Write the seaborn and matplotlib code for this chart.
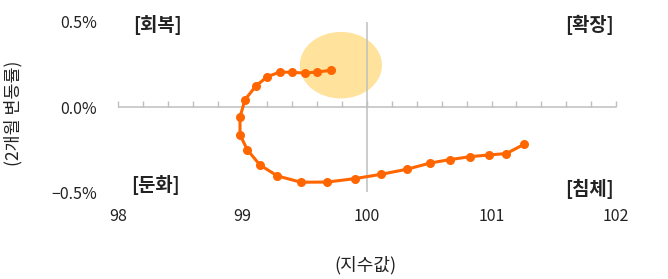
import matplotlib
matplotlib.use("Agg")
import matplotlib.pyplot as plt
from matplotlib.patches import Ellipse
import seaborn as sns
import pandas as pd

index_values = [101.26, 101.12, 100.98, 100.83, 100.67, 100.51, 100.32, 100.11,
                99.90, 99.68, 99.47, 99.28, 99.14, 99.04, 98.98, 98.98,
                99.02, 99.11, 99.20, 99.30, 99.40, 99.50, 99.60, 99.71]
change_pct = [-0.219, -0.273, -0.281, -0.291, -0.308, -0.328, -0.365, -0.395,
              -0.420, -0.440, -0.441, -0.404, -0.340, -0.252, -0.164, -0.059,
              0.043, 0.125, 0.178, 0.205, 0.203, 0.199, 0.205, 0.215]
x_ticks = [98, 99, 100, 101, 102]
y_ticks = [-0.5, 0.0, 0.5]
y_tick_labels = ["\u22120.5%", "0.0%", "0.5%"]
quadrant_labels = ["[회복]", "[확장]", "[둔화]", "[침체]"]

df = pd.DataFrame({"index": index_values, "change": change_pct})

sns.set_theme(style="white")
plt.rcParams["font.family"] = ["Noto Sans CJK KR", "DejaVu Sans"]

fig = plt.figure(figsize=(6.68, 2.79), dpi=100)
ax = fig.add_axes([118 / 668, (279 - 192.3) / 279, 498 / 668, 170.6 / 279])

# highlight ellipse
ax.add_patch(Ellipse((99.79, 0.245), 0.66, 0.39, facecolor="#FFE29C",
                     edgecolor="none", zorder=1))

ax.axvline(100, color="#BFBFBF", lw=1.1, zorder=2)
ax.axhline(0, color="#BFBFBF", lw=1.1, zorder=2)

sns.lineplot(data=df, x="index", y="change", sort=False, ax=ax,
             color="#FF6600", lw=2.2, marker="o", markersize=6.5,
             markeredgewidth=0, zorder=4, estimator=None)

ax.set_xlim(98, 102)
ax.set_ylim(-0.5, 0.5)
ax.set_xticks(x_ticks)
ax.set_xticklabels([str(v) for v in x_ticks])
ax.set_yticks(y_ticks)
ax.set_yticklabels(y_tick_labels)
ax.tick_params(axis="both", length=0, labelsize=11.5, colors="#222222")
ax.tick_params(axis="x", pad=11)
ax.tick_params(axis="y", pad=15)
for s in ax.spines.values():
    s.set_visible(False)
ax.set_xlabel("(지수값)", fontsize=13, color="#222222", va="center")
ax.set_ylabel("(2개월 변동률)", fontsize=12.5, color="#222222", va="center")
ax.xaxis.set_label_coords((365 - 118) / 498, (192.3 - 265) / 170.6)
ax.yaxis.set_label_coords((13 - 118) / 498, (192.3 - 113.5) / 170.6)
ax.grid(False)

# tick marks on the y = 0 axis line every 0.2
sec = ax.secondary_xaxis(0.5)
sec.set_xticks([98 + 0.2 * i for i in range(21)])
sec.tick_params(axis="x", direction="out", length=4, width=1, color="#BFBFBF",
                labelbottom=False, labeltop=False)
for s in sec.spines.values():
    s.set_visible(False)

kw = dict(fontsize=13.5, fontweight="bold", color="#222222", ha="center", va="center")
ax.text(98.32, 0.48, quadrant_labels[0], **kw)
ax.text(101.79, 0.48, quadrant_labels[1], **kw)
ax.text(98.30, -0.46, quadrant_labels[2], **kw)
ax.text(101.79, -0.48, quadrant_labels[3], **kw)

fig.savefig("out.png", dpi=100)
